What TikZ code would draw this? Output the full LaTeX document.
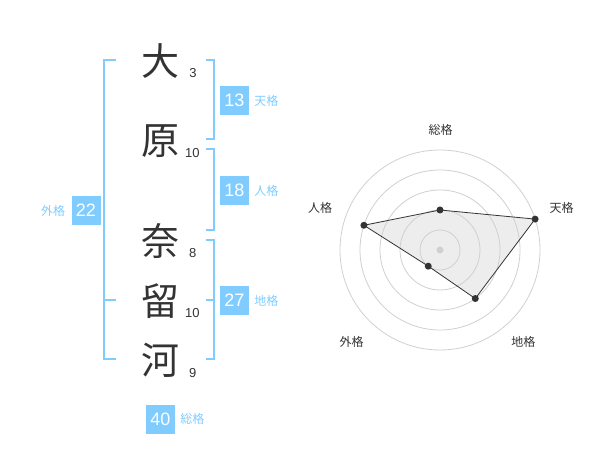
\documentclass[tikz,border=0pt]{standalone}
\usepackage{fontspec}
\setmainfont{Liberation Sans}
\newfontfamily\jp{Noto Sans CJK JP}
\usepackage{xcolor}
\usepackage{tikz}
\usetikzlibrary{positioning, calc}
\definecolor{skyb}{HTML}{80CCFF}
\definecolor{ink}{HTML}{333333}
\definecolor{ring}{HTML}{D0D0D0}

\begin{document}
\begin{tikzpicture}[
    x=1pt, y=-1pt,
    kanji/.style={font=\jp\fontsize{38}{38}\selectfont, text=ink, inner sep=0pt},
    strokes/.style={font=\fontsize{13}{13}\selectfont, text=ink, inner sep=0pt},
    numbox/.style={fill=skyb, text=white, minimum size=29pt, inner sep=0pt, font=\fontsize{18}{18}\selectfont},
    kaku/.style={font=\jp\fontsize{12}{12}\selectfont, text=skyb, inner sep=0pt},
    axislabel/.style={font=\jp\fontsize{12}{12}\selectfont, text=ink, inner sep=0pt},
    brace/.style={draw=skyb, line width=2pt},
    dot/.style={circle, fill=ink, inner sep=0pt, minimum size=7pt}
]
\useasboundingbox (0,0) rectangle (600,470);

% name
\node[kanji] (sei1) at (160,61) {大};
\node[kanji] (sei2) at (160,141) {原};
\node[kanji] (mei1) at (160,241) {奈};
\node[kanji] (mei2) at (160,301) {留};
\node[kanji] (mei3) at (160,360) {河};

\node[strokes] (k1) at (193,72.7) {3};
\node[strokes] (k2) at (192.3,153.3) {10};
\node[strokes] (k3) at (192.7,252.7) {8};
\node[strokes] (k4) at (192.3,312.7) {10};
\node[strokes] (k5) at (192.7,372.7) {9};

% brackets
\draw[brace] (116,60) -- (104.3,60) -- (104.3,359.3) -- (116,359.3);
\draw[brace] (104.3,300) -- (116,300);
\draw[brace] (205.7,60) -- (214.3,60) -- (214.3,139.3) -- (205.7,139.3);
\draw[brace] (205.7,149.3) -- (214.3,149.3) -- (214.3,230) -- (205.7,230);
\draw[brace] (205.7,240) -- (214.3,240) -- (214.3,359.3) -- (205.7,359.3);
\draw[brace] (205.7,300) -- (214.3,300);

% scores
\node[numbox] (ten) at (234.5,100.5) {13};
\node[kaku, right=5pt of ten] (tenl) {天格};
\node[numbox] (jin) at (234.5,190.5) {18};
\node[kaku, right=5pt of jin] (jinl) {人格};
\node[numbox] (chi) at (234.5,300.5) {27};
\node[kaku, right=5pt of chi] (chil) {地格};
\node[numbox] (gai) at (86,210.5) {22};
\node[kaku, left=6pt of gai] (gail) {外格};
\node[numbox] (sou) at (160.5,419) {40};
\node[kaku, right=5pt of sou] (soul) {総格};

% radar
\coordinate (c) at (440,250);
\coordinate (p1) at ($(c)+(-90:40)$);
\coordinate (p2) at ($(c)+(-18:100)$);
\coordinate (p3) at ($(c)+(54:60)$);
\coordinate (p4) at ($(c)+(126:20)$);
\coordinate (p5) at ($(c)+(198:80)$);
\fill[black!7] (p1) -- (p2) -- (p3) -- (p4) -- (p5) -- cycle;
\foreach \r in {20,40,60,80,100}
  \draw[ring, line width=0.8pt] (c) circle[radius=\r];
\fill[ring] (c) circle[radius=3.5];
\draw[ink, line width=0.8pt] (p1) -- (p2) -- (p3) -- (p4) -- (p5) -- cycle;
\foreach \p in {p1,p2,p3,p4,p5}
  \node[dot] at (\p) {};

\node[axislabel] (a1) at (440.7,130) {総格};
\node[axislabel] (a2) at (561.7,208.3) {天格};
\node[axislabel] (a3) at (523.3,341.7) {地格};
\node[axislabel] (a4) at (351.7,341.7) {外格};
\node[axislabel] (a5) at (320,208.3) {人格};

\end{tikzpicture}
\end{document}
